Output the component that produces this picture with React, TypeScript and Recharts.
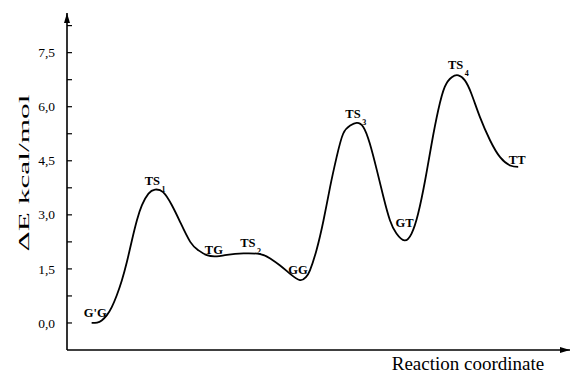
import React from 'react';
import { ComposedChart, Line, Scatter, XAxis, YAxis, Label } from 'recharts';

// Reaction profile (reaction coordinate, energy kcal/mol)
const reactionCoord = [
  0.49, 0.6, 0.69, 0.79, 0.89, 0.99, 1.09, 1.19, 1.29, 1.39, 1.49, 1.62, 1.75, 1.91, 2.08, 2.25, 2.45, 2.61,
  2.78, 2.98, 3.18, 3.51, 3.84, 4.04, 4.23, 4.43, 4.63, 4.75, 4.83, 4.96, 5.1, 5.23, 5.36, 5.49, 5.63, 5.76,
  5.89, 6.02, 6.16, 6.29, 6.42, 6.55, 6.71, 6.85, 6.98, 7.12, 7.25, 7.38, 7.51, 7.65, 7.78, 7.91, 8.04, 8.21,
  8.41, 8.61, 8.81, 8.97,
];
const energy = [
  0.0, 0.01, 0.07, 0.21, 0.44, 0.77, 1.18, 1.69, 2.29, 2.85, 3.27, 3.59, 3.7, 3.63, 3.28, 2.8, 2.25, 2.02,
  1.88, 1.85, 1.89, 1.93, 1.91, 1.79, 1.6, 1.37, 1.19, 1.27, 1.46, 2.02, 2.85, 3.77, 4.6, 5.25, 5.48, 5.55,
  5.44, 4.98, 4.24, 3.5, 2.85, 2.48, 2.29, 2.48, 3.03, 3.96, 4.98, 5.9, 6.55, 6.82, 6.87, 6.73, 6.36, 5.71,
  5.07, 4.6, 4.37, 4.33,
];

// Stationary points
const stateNames = ["G'G", 'TS', 'TG', 'TS', 'GG', 'TS', 'GT', 'TS', 'TT'];
const stateSubs = ['', '1', '', '2', '', '3', '', '4', ''];
const stateCoord = [0.6, 1.75, 2.98, 3.51, 4.63, 5.76, 6.71, 7.78, 8.97];
const stateEnergy = [0.01, 3.7, 1.85, 1.93, 1.19, 5.55, 2.29, 6.87, 4.33];

// Axis ticks
const majorTicks = [0, 1.5, 3, 4.5, 6, 7.5];
const minorTicks = [0.75, 2.25, 3.75, 5.25, 6.75, 8.25];

// label offsets (style: text centre relative to the stationary point, px)
const labelOffsets: [number, number][] = [
  [-2, -10], [0, -8.6], [-3, -6], [7, -10.5], [-2, -10], [-1, -9.4], [0, -17], [0, -10.7], [-1, -7.4],
];

const profile = reactionCoord.map((rc, i) => ({ rc, E: energy[i] }));
const states = stateNames.map((name, i) => ({
  name,
  sub: stateSubs[i],
  rc: stateCoord[i],
  E: stateEnergy[i],
  idx: i,
}));
const allTicks = [...majorTicks, ...minorTicks].sort((a, b) => a - b);

const SERIF = '"Liberation Serif", "Times New Roman", serif';

const YTick = (props: any) => {
  const { x, y, payload } = props;
  const v = payload.value;
  const major = majorTicks.includes(v);
  return (
    <g>
      <line x1={x} x2={x + 5} y1={y} y2={y} stroke="#000" strokeWidth={1.2} />
      {major && (
        <text x={x - 12} y={y} dy={4.6} textAnchor="end" fontFamily={SERIF} fontSize={13.5} fill="#000">
          {v.toFixed(1).replace('.', ',')}
        </text>
      )}
    </g>
  );
};

const StateLabel = (props: any) => {
  const { cx, cy, payload } = props;
  if (cx == null || cy == null) return null;
  const [dx, dy] = labelOffsets[payload.idx];
  return (
    <text
      x={cx + dx}
      y={cy + dy}
      textAnchor="middle"
      dominantBaseline="central"
      fontFamily={SERIF}
      fontWeight="bold"
      fontSize={12.5}
      fill="#000"
    >
      {payload.name}
      {payload.sub ? (
        <tspan fontSize={8} dx={1.5} dy={8}>
          {payload.sub}
        </tspan>
      ) : null}
    </text>
  );
};

export default function App() {
  return (
    <div style={{ position: 'absolute', left: 0, top: 0, width: 572, height: 374, background: '#fff' }}>
      <svg width={0} height={0} style={{ position: 'absolute' }}>
        <defs>
          <marker
            id="arrowHead"
            markerUnits="userSpaceOnUse"
            markerWidth={10}
            markerHeight={6}
            refX={10}
            refY={3}
            orient="auto-start-reverse"
          >
            <path d="M0,0 L10,3 L0,6 z" fill="#000" />
          </marker>
        </defs>
      </svg>
      <ComposedChart
        width={572}
        height={374}
        margin={{ top: 13, right: 2, bottom: 0, left: 0 }}
        style={{ background: '#fff' }}
      >
        <XAxis
          type="number"
          dataKey="rc"
          domain={[0, 10]}
          allowDataOverflow
          height={24}
          tick={false}
          tickLine={false}
          axisLine={{ stroke: '#000', strokeWidth: 1.6, markerEnd: 'url(#arrowHead)' } as any}
        >
          <Label
            content={(p: any) => {
              const vb = p.viewBox || { x: 67, y: 350, width: 503 };
              return (
                <text
                  x={vb.x + 401}
                  y={370}
                  textAnchor="middle"
                  fontFamily={SERIF}
                  fontSize={19}
                  fill="#000"
                >
                  Reaction coordinate
                </text>
              );
            }}
          />
        </XAxis>
        <YAxis
          type="number"
          domain={[-0.75, 8.6]}
          allowDataOverflow
          width={67}
          ticks={allTicks}
          interval={0}
          tickSize={0}
          tickMargin={0}
          tickLine={false}
          tick={<YTick />}
          axisLine={{ stroke: '#000', strokeWidth: 1.6, markerStart: 'url(#arrowHead)' } as any}
        >
          <Label
            content={() => (
              <text
                x={29}
                y={173}
                transform="rotate(-90, 29, 173)"
                textAnchor="middle"
                fontFamily={SERIF}
                fontSize={15.5}
                textLength={157}
                lengthAdjust="spacingAndGlyphs"
                fill="#000"
              >
                ΔE kcal/mol
              </text>
            )}
          />
        </YAxis>
        <Line
          data={profile}
          dataKey="E"
          type="natural"
          stroke="#000"
          strokeWidth={1.8}
          dot={false}
          activeDot={false}
          isAnimationActive={false}
        />
        <Scatter data={states} dataKey="E" shape={<StateLabel />} isAnimationActive={false} />
      </ComposedChart>
    </div>
  );
}
